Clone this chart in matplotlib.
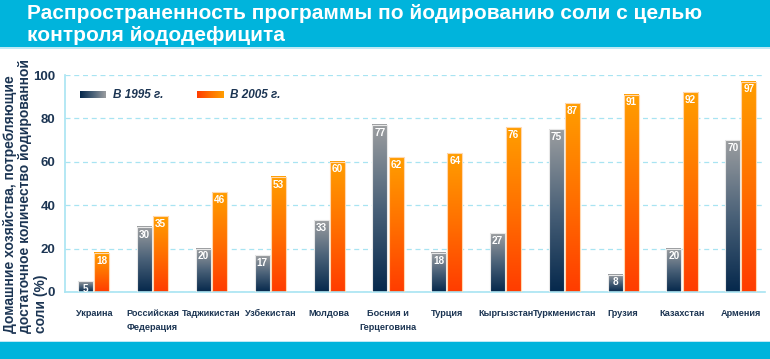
import matplotlib
matplotlib.use("Agg")
import matplotlib.pyplot as plt
import numpy as np
from matplotlib.colors import LinearSegmentedColormap
from matplotlib.patches import Rectangle
from matplotlib import font_manager

names = {f.name for f in font_manager.fontManager.ttflist}
title_font = 'Liberation Sans Narrow' if 'Liberation Sans Narrow' in names else 'Liberation Sans'
plt.rcParams['font.family'] = ['Liberation Sans', 'DejaVu Sans']

categories = ["Украина", "Российская\nФедерация", "Таджикистан", "Узбекистан", "Молдова",
              "Босния и\nГерцеговина", "Турция", "Кыргызстан", "Туркменистан", "Грузия",
              "Казахстан", "Армения"]
values_1995 = [5, 30, 20, 17, 33, 77, 18, 27, 75, 8, 20, 70]
values_2005 = [18, 35, 46, 53, 60, 62, 64, 76, 87, 91, 92, 97]
series_labels = ["В 1995 г.", "В 2005 г."]
yticks = [0, 20, 40, 60, 80, 100]
title = "Распространенность программы по йодированию соли с целью\nконтроля йододефицита"
ylabel_lines = ["Домашние хозяйства, потребляющие",
                "достаточное количество йодированной",
                "соли (%)"]

navy = '#1c3553'
cyan = '#00b4dc'
cmap_blue = LinearSegmentedColormap.from_list('b', ['#05284c', '#4a6178', '#9c9ea0'])
cmap_orng = LinearSegmentedColormap.from_list('o', ['#ff3c00', '#ff7000', '#ff9e00'])

fig = plt.figure(figsize=(7.7, 3.59), dpi=100)
# header & footer bands
fig.patches.append(Rectangle((0, 1 - 46.5/359), 1, 46.5/359, transform=fig.transFigure,
                             facecolor=cyan, edgecolor='none', zorder=0))
fig.patches.append(Rectangle((0, 1 - 48.5/359), 1, 1.5/359, transform=fig.transFigure,
                             facecolor='#bfe9f5', edgecolor='none', zorder=0))
fig.patches.append(Rectangle((0, 0), 1, 17/359, transform=fig.transFigure,
                             facecolor=cyan, edgecolor='none', zorder=0))
fig.patches.append(Rectangle((0, 17/359), 1, 1.5/359, transform=fig.transFigure,
                             facecolor='#bfe9f5', edgecolor='none', zorder=0))

fig.text(27/770, 1 - 4/359, title, color='white', fontsize=15, fontweight='bold',
         family=[title_font, 'DejaVu Sans'], va='top', ha='left', linespacing=1.22)

ax = fig.add_axes([65/770, 67/359, 700/770, 217/359])
x = np.arange(len(categories))
w = 0.255
bars1 = ax.bar(x - w/2 - 0.01, values_1995, w, facecolor='none', edgecolor='#e8e8e8', lw=0.8, zorder=3)
bars2 = ax.bar(x + w/2 + 0.01, values_2005, w, facecolor='none', edgecolor='#ffd8b0', lw=0.8, zorder=3)

grad = np.linspace(0, 1, 256).reshape(-1, 1)
for bars, cm in ((bars1, cmap_blue), (bars2, cmap_orng)):
    for b in bars:
        x0, y0 = b.get_x(), b.get_y()
        bw, bh = b.get_width(), b.get_height()
        ax.imshow(grad, extent=(x0, x0 + bw, y0, y0 + bh), origin='lower', cmap=cm,
                  aspect='auto', zorder=2, interpolation='bilinear')
        ax.text(x0 + bw/2, bh - 1.2, f"{int(bh)}", ha='center', va='top', color='white',
                fontsize=7.2, fontweight='bold', zorder=4)

ax.set_xlim(-0.49, 11.41)
ax.set_ylim(0, 100)
ax.set_yticks(yticks)
ax.set_yticklabels([str(t) for t in yticks], color=navy, fontsize=9.5, fontweight='bold')
ax.set_xticks(x)
ax.set_xticklabels(categories, color=navy, fontsize=6.6, fontweight='bold', linespacing=1.8)
ax.tick_params(axis='both', length=0)
ax.tick_params(axis='x', pad=12)
ax.tick_params(axis='y', pad=7)
ax.grid(axis='y', color='#a8e4f2', ls=(0, (4, 3)), lw=0.9, zorder=1)
ax.set_axisbelow(True)
for s in ['top', 'right']:
    ax.spines[s].set_visible(False)
for s in ['left', 'bottom']:
    ax.spines[s].set_color('#a8e4f2')
    ax.spines[s].set_linewidth(1.2)

for i, line in enumerate(ylabel_lines):
    fig.text((3 + 15.5 * i)/770, 26/359, line, color=navy, fontsize=10, fontweight='bold',
             rotation=90, ha='left', va='bottom')

# legend with gradient swatches
lgrad = np.linspace(0, 1, 256).reshape(1, -1)
for (lx, cm, lab) in ((80, cmap_blue, series_labels[0]), (197, cmap_orng, series_labels[1])):
    lax = fig.add_axes([lx/770, 1 - 98/359, 26/770, 7.5/359])
    lax.imshow(lgrad, cmap=cm, aspect='auto', interpolation='bilinear')
    lax.set_axis_off()
    fig.text((lx + 33)/770, 1 - 94.5/359, lab, color=navy, fontsize=8.5, fontweight='bold',
             style='italic', va='center', ha='left')

fig.savefig('out.png', dpi=100, facecolor='white')
